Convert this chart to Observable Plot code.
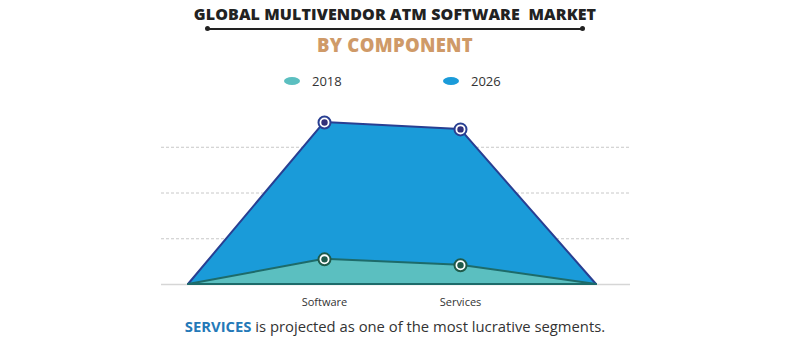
<!DOCTYPE html>
<html>
<head>
<meta charset="utf-8">
<script src="https://cdn.jsdelivr.net/npm/d3@7"></script>
<script src="https://cdn.jsdelivr.net/npm/@observablehq/plot@0.6"></script>
<style>
  html, body { margin: 0; padding: 0; background: #fff; }
  #page { position: relative; width: 790px; height: 351px; overflow: hidden; font-family: "Open Sans", sans-serif; }
  #title { position: absolute; left: 0; width: 790px; top: 3px; text-align: center; font-family: "Open Sans", sans-serif; font-weight: 800; font-size: 16px; color: #222; letter-spacing: 0.1px; white-space: pre; }
  #rule { position: absolute; left: 207px; width: 376px; top: 28px; height: 1.5px; background: #222; }
  .dot { position: absolute; top: 26px; width: 5px; height: 5px; border-radius: 50%; background: #222; }
  #subtitle { position: absolute; left: 0; width: 790px; top: 32px; text-align: center; font-weight: 800; font-size: 18.5px; color: #cf9a68; letter-spacing: 0.3px; }
  #legend { position: absolute; top: 72px; left: 0; width: 790px; height: 18px; font-size: 13px; color: #333; }
  .sw { position: absolute; top: 5px; width: 16px; height: 8px; border-radius: 50%; }
  .lab { position: absolute; top: 0px; }
  #chart { position: absolute; top: 95px; left: 0; }
  #caption { position: absolute; left: 0; width: 790px; top: 316px; text-align: center; font-size: 14.8px; color: #333; }
  #caption b { color: #2479b8; font-weight: 700; }
</style>
</head>
<body>
<div id="page">
  <div id="title">GLOBAL MULTIVENDOR ATM SOFTWARE  MARKET</div>
  <div id="rule"></div>
  <div class="dot" style="left:205px"></div>
  <div class="dot" style="left:580px"></div>
  <div id="subtitle">BY COMPONENT</div>
  <div id="legend"></div>
  <div id="chart"></div>
  <div id="caption"><b>SERVICES</b> is projected as one of the most lucrative segments.</div>
</div>
<script>
// Data
const categories = ["start", "Software", "Services", "end"];
const tickLabels = ["", "Software", "Services", ""];
const values2018 = [0, 0.55, 0.42, 0];
const values2026 = [0, 3.54, 3.39, 0];
const seriesNames = ["2018", "2026"];
const seriesFill = ["#5bbfc0", "#1a9bd9"];
const seriesStroke = ["#1d6b6a", "#283f92"];
const seriesDot = ["#1f5a4a", "#32307a"];

const rows2018 = categories.map((c, i) => ({cat: c, v: values2018[i]}));
const rows2026 = categories.map((c, i) => ({cat: c, v: values2026[i]}));
const pts2018 = rows2018.slice(1, 3);
const pts2026 = rows2026.slice(1, 3);

// Legend
const legend = document.getElementById("legend");
const legendX = [284, 443];
seriesNames.forEach((name, i) => {
  const sw = document.createElement("span");
  sw.className = "sw";
  sw.style.left = legendX[i] + "px";
  sw.style.background = seriesFill[i];
  legend.appendChild(sw);
  const lb = document.createElement("span");
  lb.className = "lab";
  lb.style.left = (legendX[i] + 28) + "px";
  lb.textContent = name;
  legend.appendChild(lb);
});

const chart = Plot.plot({
  width: 790,
  height: 220,
  marginLeft: 161,
  marginRight: 160,
  marginTop: 6,
  marginBottom: 31,
  style: {fontFamily: "'Open Sans', sans-serif", color: "#333", background: "transparent"},
  x: {type: "point", domain: categories, padding: 0, insetLeft: 26, insetRight: 34},
  y: {domain: [0, 4]},
  marks: [
    Plot.ruleY([1, 2, 3], {stroke: "#c8c8c8", strokeDasharray: "3,2", strokeWidth: 1}),
    Plot.ruleY([0], {stroke: "#d6d6d6", strokeWidth: 1.5}),
    Plot.areaY(rows2026, {x: "cat", y: "v", fill: seriesFill[1], stroke: seriesStroke[1], strokeWidth: 2, strokeLinejoin: "round"}),
    Plot.areaY(rows2018, {x: "cat", y: "v", fill: seriesFill[0], stroke: seriesStroke[0], strokeWidth: 2, strokeLinejoin: "round"}),
    Plot.dot(pts2026, {x: "cat", y: "v", r: 6, fill: "white", stroke: seriesStroke[1], strokeWidth: 2}),
    Plot.dot(pts2026, {x: "cat", y: "v", r: 3.2, fill: seriesDot[1]}),
    Plot.dot(pts2018, {x: "cat", y: "v", r: 6, fill: "white", stroke: seriesDot[0], strokeWidth: 2}),
    Plot.dot(pts2018, {x: "cat", y: "v", r: 3.2, fill: seriesDot[0]}),
    Plot.axisX({tickSize: 0, tickPadding: 14, fontSize: 11, tickFormat: (d) => tickLabels[categories.indexOf(d)], label: null}),
    Plot.axisY({ticks: [], label: null})
  ]
});
document.getElementById("chart").appendChild(chart);
</script>
</body>
</html>
